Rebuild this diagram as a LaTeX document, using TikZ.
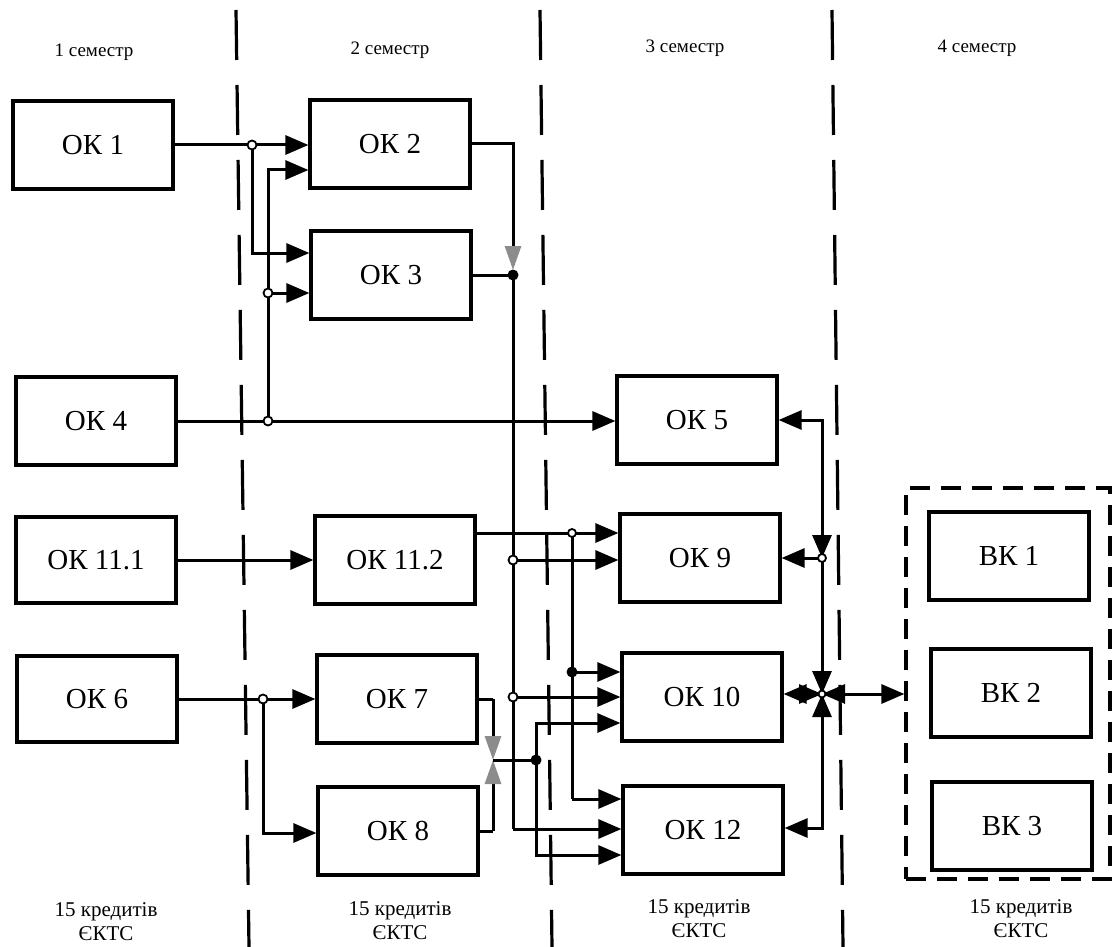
\documentclass[tikz,border=0pt]{standalone}
\usepackage{fontspec}
\setmainfont{Liberation Serif}
\usetikzlibrary{arrows.meta}
\begin{document}
\begin{tikzpicture}[x=1pt,y=-1pt,
  blk/.style={draw, line width=3.2pt, minimum width=160pt, minimum height=88pt, inner sep=0pt, font=\fontsize{29}{32}\selectfont},
  conn/.style={line width=3pt},
  arr/.style={-{Triangle[length=23pt,width=19pt]}},
  both/.style={{Triangle[length=23pt,width=19pt]}-{Triangle[length=23pt,width=19pt]}},
  grayarr/.style={-{Triangle[length=24pt,width=16pt,color=black!45]}},
  sep/.style={line width=3.2pt, dash pattern=on 50pt off 25pt},
  jo/.style={circle, draw, fill=white, line width=1.8pt, minimum size=9pt, inner sep=0pt},
  jf/.style={circle, fill=black, minimum size=11pt, inner sep=0pt},
  sem/.style={font=\fontsize{19}{22}\selectfont},
  cred/.style={font=\fontsize{21}{24}\selectfont, align=center}
]
\useasboundingbox (0,0) rectangle (1112,947);

% separators
\draw[sep] (236,10) -- (249,947);
\draw[sep] (540,10) -- (552,947);
\draw[sep] (832,10) -- (843,947);

% labels
\node[sem] (s1) at (94,52) {1 семестр};
\node[sem] (s2) at (390,50) {2 семестр};
\node[sem] (s3) at (685,48) {3 семестр};
\node[sem] (s4) at (977,48) {4 семестр};
\node[cred] (k1) at (106,922) {15 кредитів\\ЄКТС};
\node[cred] (k2) at (400,921) {15 кредитів\\ЄКТС};
\node[cred] (k3) at (699,919) {15 кредитів\\ЄКТС};
\node[cred] (k4) at (1021,919) {15 кредитів\\ЄКТС};

% boxes
\node[blk] (ok1) at (93,145) {ОК 1};
\node[blk] (ok4) at (96,421) {ОК 4};
\node[blk, minimum height=86pt] (ok111) at (96,560) {ОК 11.1};
\node[blk, minimum height=86pt] (ok6) at (97,699) {ОК 6};
\node[blk] (ok2) at (390,144) {ОК 2};
\node[blk] (ok3) at (391,275) {ОК 3};
\node[blk] (ok112) at (395,560) {ОК 11.2};
\node[blk] (ok7) at (397,699) {ОК 7};
\node[blk] (ok8) at (398,831) {ОК 8};
\node[blk] (ok5) at (697,420) {ОК 5};
\node[blk] (ok9) at (700,558) {ОК 9};
\node[blk] (ok10) at (702,697) {ОК 10};
\node[blk] (ok12) at (703,830) {ОК 12};
\node[blk] (bk1) at (1009,556) {ВК 1};
\node[blk] (bk2) at (1011,693) {ВК 2};
\node[blk] (bk3) at (1012,826) {ВК 3};
\node[draw, line width=3.2pt, dash pattern=on 20pt off 11pt, minimum width=204pt, minimum height=391pt, inner sep=0pt] (dbox) at (1008,683.5) {};

% junction coordinates
\coordinate (a1) at (252,145);
\coordinate (a4) at (268,421);
\coordinate (a4b) at (268,293);
\coordinate (c1) at (513,275);
\coordinate (c2) at (513,560);
\coordinate (c3) at (513,697);
\coordinate (c4) at (513,829);
\coordinate (d1) at (572,533);
\coordinate (d2) at (572,672);
\coordinate (d3) at (572,799);
\coordinate (e1) at (493,699);
\coordinate (e2) at (493,831);
\coordinate (e3) at (493,760);
\coordinate (e4) at (536,760);
\coordinate (f1) at (263,699);
\coordinate (g2) at (822,558);
\coordinate (g3) at (822,828);
\coordinate (h) at (822,694);

% semester 1 -> 2
\draw[conn,arr] (ok1.east) -- (ok2.west |- ok1.east);
\draw[conn,arr] (a1) |- ([yshift=22pt]ok3.west);
\draw[conn,arr] (ok4.east) -- (ok5.west |- ok4.east);
\draw[conn,arr] (a4) |- ([yshift=-26pt]ok2.west);
\draw[conn,arr] (a4b) -- ([yshift=-18pt]ok3.west);
\draw[conn,arr] (ok111.east) -- (ok112.west |- ok111.east);
\draw[conn,arr] (ok6.east) -- (ok7.west |- ok6.east);
\draw[conn,arr] (f1) |- ([yshift=-2pt]ok8.west);

% OK2, OK3 outputs
\draw[conn] (ok2.east) -| (513,240);
\draw[conn, grayarr, shorten >=5pt] (513,238) -- (c1);
\draw[conn] (ok3.east) -- (c1);
\draw[conn] (c1) -- (c4);
\draw[conn,arr] (c4) -- (ok12.west |- c4);
\draw[conn,arr] (c2) -- (ok9.west |- c2);
\draw[conn,arr] (c3) -- (ok10.west |- c3);

% OK11.2 outputs
\draw[conn,arr] ([yshift=27pt]ok112.east) -- (ok9.west |- d1);
\draw[conn] (d1) -- (d3);
\draw[conn,arr] (d3) -- (ok12.west |- d3);
\draw[conn,arr] (d2) -- (ok10.west |- d2);

% OK7, OK8 outputs
\draw[conn] (ok7.east) -- (e1);
\draw[conn] (ok8.east) -- (e2);
\draw[conn, grayarr] (e1) -- (e3);
\draw[conn, grayarr] (e2) -- (e3);
\draw[conn] (e3) -- (e4);
\draw[conn,arr] (e4) |- (ok10.west |- 0,723);
\draw[conn,arr] (e4) |- (ok12.west |- 0,855);

% hub
\draw[conn,both] (ok5.east) -| (g2);
\draw[conn,arr] (g2) -- (ok9.east |- g2);
\draw[conn,arr] (g2) -- (h);
\draw[conn,both] (h) -- (ok10.east |- h);
\draw[conn,both] (h) |- (ok12.east |- g3);
\draw[conn,both] (h) -- (dbox.west |- h);

% junction marks
\node[jo] (ja1) at (a1) {};
\node[jo] (ja4) at (a4) {};
\node[jo] (ja4b) at (a4b) {};
\node[jf] (jc1) at (c1) {};
\node[jo] (jc2) at (c2) {};
\node[jo] (jc3) at (c3) {};
\node[jo, minimum size=8pt] (jd1) at (d1) {};
\node[jf] (jd2) at (d2) {};
\node[jf] (je4) at (e4) {};
\node[jo] (jf1) at (f1) {};
\node[jo, minimum size=8pt] (jg2) at (g2) {};
\node[jo, minimum size=7pt] (jh) at (h) {};
\end{tikzpicture}
\end{document}
